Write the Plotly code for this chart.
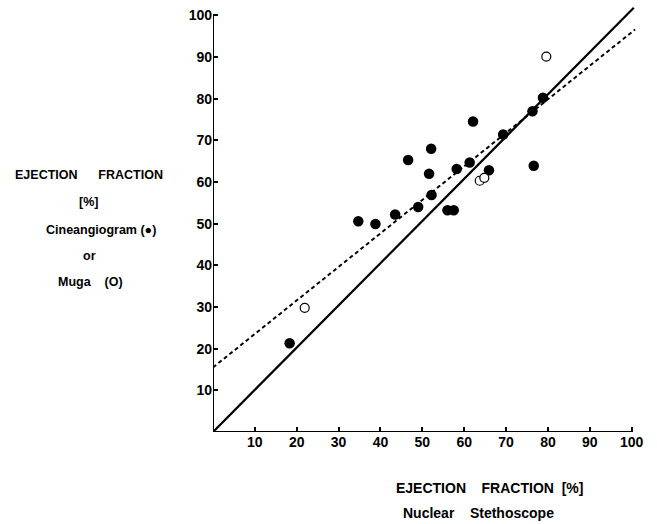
import plotly.graph_objects as go

# Cineangiogram (filled) points
cine_x = [18.3, 34.7, 38.8, 43.5, 46.6, 49.0, 51.6, 52.1, 52.2, 56.0, 57.5, 58.2, 61.3, 62.1, 65.9, 69.3, 76.3, 76.6, 78.8]
cine_y = [21.3, 50.6, 49.9, 52.2, 65.3, 54.0, 62.0, 68.0, 56.9, 53.2, 53.2, 63.1, 64.7, 74.5, 62.8, 71.4, 77.0, 63.9, 80.2]
# Muga (open) points
muga_x = [21.9, 63.7, 64.8, 79.6]
muga_y = [29.8, 60.3, 61.0, 90.1]
# Lines
solid_x = [0, 100.5]
solid_y = [0, 101.8]
dashed_x = [0, 100.8]
dashed_y = [15.5, 96.6]

x_ticks = [10, 20, 30, 40, 50, 60, 70, 80, 90, 100]
y_ticks = [10, 20, 30, 40, 50, 60, 70, 80, 90, 100]

FONT = "Liberation Sans"

L, R, T, B = 213, 19, 7, 92
PW, PH = 657 - L - R, 524 - T - B

fig = go.Figure()
fig.add_trace(go.Scatter(x=solid_x, y=solid_y, mode="lines",
                         line=dict(color="black", width=2.2), showlegend=False, hoverinfo="skip"))
fig.add_trace(go.Scatter(x=dashed_x, y=dashed_y, mode="lines",
                         line=dict(color="black", width=2, dash="4px,3px"), showlegend=False, hoverinfo="skip"))
fig.add_trace(go.Scatter(x=cine_x, y=cine_y, mode="markers",
                         marker=dict(size=10.5, color="black", line=dict(width=0)), showlegend=False))
fig.add_trace(go.Scatter(x=muga_x, y=muga_y, mode="markers",
                         marker=dict(size=9, color="white", line=dict(width=1.2, color="black")), showlegend=False))

# axis lines
fig.add_shape(type="line", x0=0, x1=100, y0=0, y1=0, xref="x", yref="y", line=dict(color="black", width=2))
fig.add_shape(type="line", x0=0, x1=0, y0=0, y1=100, xref="x", yref="y", line=dict(color="black", width=2))

fig.update_xaxes(range=[0, 101.5], tickvals=x_ticks, ticktext=["<b>%d</b>" % v for v in x_ticks],
                 ticks="inside", ticklen=5, tickwidth=1.5, tickcolor="black",
                 showgrid=False, zeroline=False, showline=False, automargin=False,
                 tickfont=dict(family=FONT, size=14, color="black"))
fig.update_yaxes(range=[0, 102], tickvals=y_ticks, ticktext=["<b>%d</b>" % v for v in y_ticks],
                 ticks="inside", ticklen=5, tickwidth=1.5, tickcolor="black",
                 showgrid=False, zeroline=False, showline=False, automargin=False,
                 tickfont=dict(family=FONT, size=14, color="black"))


def px2paper(px, py):
    return (px - L) / PW, (524 - B - py) / PH


left_lines = [
    ("<b>EJECTION&nbsp;&nbsp;&nbsp;&nbsp;&nbsp;&nbsp;FRACTION</b>", 89, 175),
    ("<b>[%]</b>", 88, 202),
    ("<b>Cineangiogram (●)</b>", 101, 230),
    ("<b>or</b>", 89, 256),
    ("<b>Muga&nbsp;&nbsp;&nbsp;&nbsp;(O)</b>", 90, 282),
]
for txt, cx, cy in left_lines:
    ax, ay = px2paper(cx, cy)
    fig.add_annotation(text=txt, xref="paper", yref="paper", x=ax, y=ay, showarrow=False,
                       font=dict(family=FONT, size=12.5, color="black"),
                       xanchor="center", yanchor="middle")

bottom_lines = [
    ("<b>EJECTION&nbsp;&nbsp;&nbsp;&nbsp;FRACTION&nbsp;&nbsp;[%]</b>", 489, 488),
    ("<b>Nuclear&nbsp;&nbsp;&nbsp;&nbsp;Stethoscope</b>", 478, 513),
]
for txt, cx, cy in bottom_lines:
    ax, ay = px2paper(cx, cy)
    fig.add_annotation(text=txt, xref="paper", yref="paper", x=ax, y=ay, showarrow=False,
                       font=dict(family=FONT, size=14, color="black"),
                       xanchor="center", yanchor="middle")

fig.update_layout(width=657, height=524, margin=dict(l=L, r=R, t=T, b=B, autoexpand=False),
                  plot_bgcolor="white", paper_bgcolor="white")

fig.write_html("out.html", config={"displayModeBar": False},
               post_script="document.body.style.margin='0px';")
